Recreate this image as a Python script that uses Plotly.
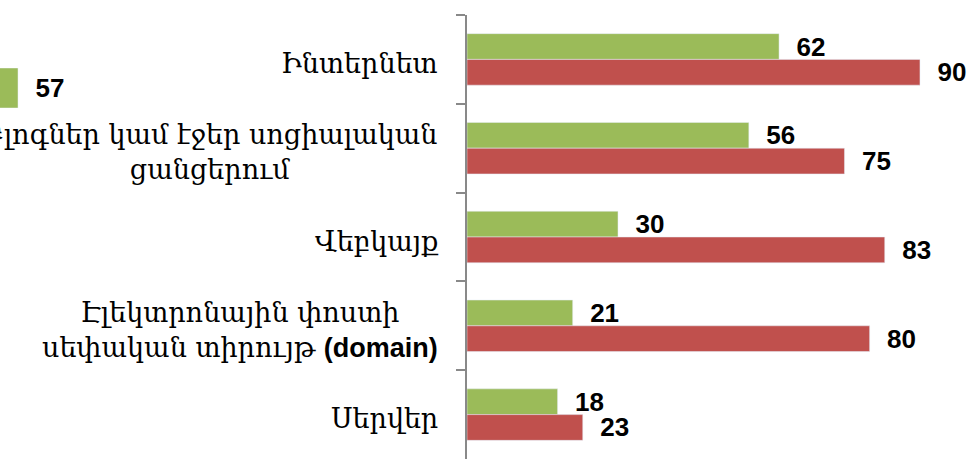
import plotly.graph_objects as go

categories = [
    "Ինտերնետ",
    "Բլոգներ կամ էջեր սոցիալական<br>ցանցերում",
    "Վեբկայք",
    "Էլեկտրոնային փոստի<br>սեփական տիրույթ <span style='font-family:Liberation Sans'><b>(domain)</b></span>",
    "Սերվեր",
]
cat_keys = ["c1", "c2", "c3", "c4", "c5"]
green_values = [62, 56, 30, 21, 18]
red_values = [90, 75, 83, 80, 23]
stray_value = [57]

GREEN = "#9BBB59"
RED = "#C0504D"
W, H = 973, 461
label_font = dict(family="DejaVu Serif", size=27, color="black")
value_font = dict(family="Liberation Sans", size=26, color="black")
tmpl = "\u00a0\u00a0<b>%{x}</b>"

fig = go.Figure()
common = dict(orientation="h", texttemplate=tmpl, textposition="outside",
              textfont=value_font, cliponaxis=False, constraintext="none")
fig.add_trace(go.Bar(y=cat_keys, x=green_values, marker_color=GREEN,
                     xaxis="x", yaxis="y", **common))
fig.add_trace(go.Bar(y=cat_keys, x=red_values, marker_color=RED,
                     xaxis="x", yaxis="y", **common))
# partial bar visible at the left edge of the crop
fig.add_trace(go.Bar(y=[0], x=stray_value, marker_color=GREEN, width=1,
                     xaxis="x2", yaxis="y2", **common))

left_px = 467
scale = 5.033  # px per unit
plot_h = H - 15 - 2
x_dom = [left_px / W, 1.0]
x_range = [0, (W - left_px) / scale]
x2_dom = [0, 0.4]
x2_start = stray_value[0] - 18 / scale
x2_range = [x2_start, x2_start + 0.4 * W / scale]
y2_dom = [(459 - 108) / plot_h, (459 - 68) / plot_h]

for key, lab in zip(cat_keys, categories):
    fig.add_annotation(x=440 / W, xref="paper", y=key, yref="y", text=lab,
                       xanchor="right", yanchor="middle", align="center",
                       yshift=-4, showarrow=False, font=label_font)

fig.update_layout(
    width=W, height=H,
    margin=dict(l=0, r=0, t=15, b=2),
    paper_bgcolor="white", plot_bgcolor="white",
    barmode="group", bargap=0.42, bargroupgap=0,
    showlegend=False,
    xaxis=dict(domain=x_dom, range=x_range, visible=False, fixedrange=True),
    yaxis=dict(type="category", categoryarray=cat_keys, autorange="reversed",
               showticklabels=False, showline=True, linecolor="#898989", linewidth=1.5,
               ticks="outside", ticklen=9, tickwidth=1.5, tickcolor="#898989",
               tickson="boundaries", showgrid=False, zeroline=False, anchor="x"),
    xaxis2=dict(domain=x2_dom, range=x2_range, visible=False, anchor="y2"),
    yaxis2=dict(domain=y2_dom, range=[-0.5, 0.5], visible=False, anchor="x2"),
)

fig.write_html("out.html", config={"displayModeBar": False},
               post_script="document.body.style.margin='0px';")
